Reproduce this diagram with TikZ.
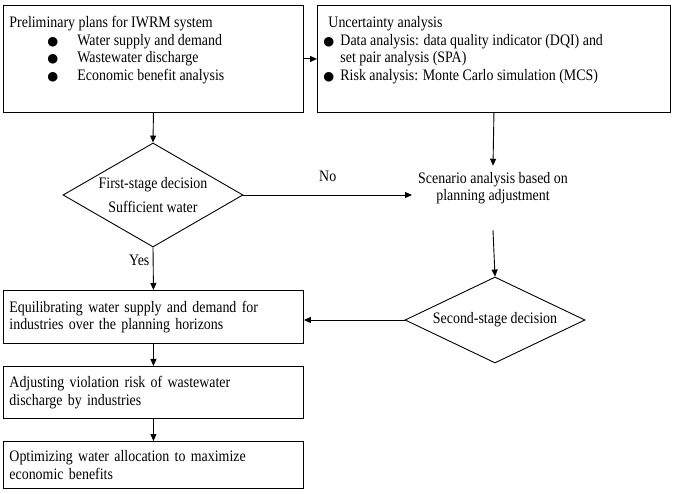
\documentclass[tikz,border=0pt]{standalone}
\usepackage{fontspec}
\setmainfont[FakeStretch=0.87]{Liberation Serif}
\newfontfamily\symfont{DejaVu Sans}
\usetikzlibrary{shapes,arrows,positioning,calc,arrows.meta}
\newcommand{\blt}[1]{\makebox[#1][l]{\fontsize{12.5}{0}\symfont ●}}

\begin{document}
\begin{tikzpicture}[x=1pt,y=-1pt,
    box/.style={draw, line width=0.9pt, anchor=north west, inner xsep=6pt, align=left, font=\fontsize{16}{17.5}\selectfont},
    dec/.style={draw, diamond, line width=0.9pt, inner sep=0pt, align=center, font=\fontsize{16}{17.5}\selectfont},
    arr/.style={line width=0.9pt, -{Triangle[length=7pt,width=6pt]}}]
    \useasboundingbox (0,0) rectangle (675,494);

    % Preliminary plans
    \node[box, inner ysep=11pt] (plan) at (3,5) {\begin{minipage}[t][85pt][t]{288pt}
        Preliminary plans for IWRM system\\
        \hspace*{38pt}\blt{30pt}Water supply and demand\\
        \hspace*{38pt}\blt{30pt}Wastewater discharge\\
        \hspace*{38pt}\blt{30pt}Economic benefit analysis
    \end{minipage}};

    % Uncertainty analysis
    \node[box, inner ysep=11pt] (unc) at (317,5) {\begin{minipage}[t][85pt][t]{341pt}
        \hspace*{5pt}Uncertainty analysis\\
        \blt{17pt}Data analysis: data quality indicator (DQI) and\\
        \hspace*{17pt}set pair analysis (SPA)\\
        \blt{17pt}Risk analysis: Monte Carlo simulation (MCS)
    \end{minipage}};

    % Decisions
    \node[dec, minimum width=180pt, minimum height=104pt, aspect=1.73] (first) at (153,195) {\raisebox{-3pt}{\shortstack{First-stage decision\\[6pt]Sufficient water}}};
    \node[align=center, inner sep=6pt, font=\fontsize{16}{17.5}\selectfont] (scen) at (493,188) {Scenario analysis based on\\planning adjustment};
    \node[dec, minimum width=180pt, minimum height=86pt, aspect=2.09] (second) at (495,320) {Second-stage decision};

    % Lower boxes
    \node[box, text width=288pt, minimum height=53pt] (equil) at (3,290) {Equilibrating water supply and demand for\\industries over the planning horizons};
    \node[box, text width=288pt, minimum height=52pt] (adjust) at (3,366) {Adjusting violation risk of wastewater\\discharge by industries};
    \node[box, text width=288pt, minimum height=47pt] (optim) at (3,441) {Optimizing water allocation to maximize\\economic benefits};

    % Arrows
    \draw[arr] (plan.east) -- (plan.east -| unc.west);
    \draw[arr] (plan.south) -- (first.north);
    \draw[arr] (unc.south) -- (scen.north);
    \draw[arr] (first.east) -- (first.east -| scen.west) node[midway, above=10pt, font=\fontsize{16}{17.5}\selectfont] {No};
    \draw[arr] (first.south) -- (equil.north) node[pos=0.3, left, font=\fontsize{16}{17.5}\selectfont] {Yes};
    \draw[arr] ([yshift=-20pt]scen.south) -- (second.north);
    \draw[arr] (second.west) -- (second.west -| equil.east);
    \draw[arr] (equil.south) -- (adjust.north);
    \draw[arr] (adjust.south) -- (optim.north);
\end{tikzpicture}
\end{document}
